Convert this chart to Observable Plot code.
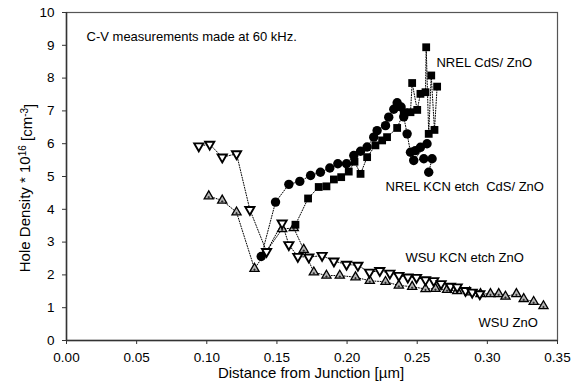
<!DOCTYPE html>
<html>
<head>
<meta charset="utf-8">
<script src="https://cdn.jsdelivr.net/npm/d3@7"></script>
<script src="https://cdn.jsdelivr.net/npm/@observablehq/plot@0.6"></script>
<style>
  html, body { margin: 0; padding: 0; background: #fff; }
  svg { font-family: Arial, "Liberation Sans", sans-serif; }
</style>
</head>
<body>
<div id="chart"></div>
<script>
// WSU KCN etch ZnO (open down-triangles)
const wsuKcnX = [0.0943,0.1021,0.111,0.1212,0.1307,0.1426,0.1537,0.1585,0.1649,0.1727,0.1822,0.1906,0.1996,0.2077,0.216,0.2233,0.2305,0.2369,0.2433,0.2495,0.2559,0.2618,0.267,0.2737,0.2785,0.2844,0.2892,0.2946];
const wsuKcnY = [5.93,5.98,5.59,5.69,3.99,2.71,3.58,2.92,2.56,2.54,2.59,2.42,2.32,2.29,2.08,2.13,2.05,1.98,1.93,1.92,1.85,1.82,1.73,1.65,1.63,1.52,1.47,1.42];
// WSU ZnO (hatched up-triangles)
const wsuX = [0.1014,0.111,0.1212,0.134,0.1537,0.162,0.1691,0.1763,0.1853,0.1948,0.206,0.2162,0.2274,0.2369,0.2464,0.2559,0.263,0.2713,0.2785,0.2874,0.2951,0.3022,0.3081,0.3129,0.3207,0.3259,0.333,0.340];
const wsuY = [4.40,4.27,3.91,2.19,3.40,3.43,2.77,2.08,1.98,1.98,1.93,1.82,1.79,1.68,1.64,1.57,1.58,1.55,1.51,1.47,1.42,1.42,1.42,1.34,1.42,1.27,1.18,1.05];
// NREL KCN etch CdS/ ZnO (filled circles)
const nrelKcnX = [0.1388,0.149,0.1585,0.1663,0.174,0.181,0.1877,0.1934,0.1996,0.2048,0.2096,0.2143,0.219,0.2214,0.2274,0.2297,0.2333,0.2357,0.2385,0.2404,0.2428,0.2452,0.2487,0.2523,0.257,0.2475,0.2547,0.2606,0.2582];
const nrelKcnY = [2.56,4.22,4.76,4.85,5.03,5.13,5.26,5.39,5.39,5.64,5.77,5.90,6.20,6.40,6.55,6.81,7.05,7.25,7.12,6.82,6.30,5.74,5.79,5.89,6.00,5.49,5.54,5.54,5.13];
// NREL CdS/ ZnO (filled squares)
const nrelX = [0.1632,0.1722,0.1798,0.1853,0.1906,0.1958,0.2012,0.2053,0.2096,0.2143,0.2202,0.225,0.2285,0.2357,0.2404,0.2452,0.2464,0.25,0.2523,0.2559,0.2564,0.2582,0.26,0.2623,0.2642];
const nrelY = [3.53,4.33,4.68,4.70,4.91,4.98,5.15,5.45,5.08,5.59,5.95,6.10,6.20,6.48,6.96,6.96,7.85,7.03,7.52,7.57,8.94,6.30,8.08,6.42,7.74];

const xTicks = [0,0.05,0.10,0.15,0.20,0.25,0.30,0.35];
const yTicks = [0,1,2,3,4,5,6,7,8,9,10];

const labels = [
  {x: 0.0143, y: 9.27, text: "C-V measurements made at 60 kHz."},
  {x: 0.2637, y: 8.48, text: "NREL CdS/ ZnO"},
  {x: 0.2274, y: 4.67, text: "NREL KCN etch  CdS/ ZnO"},
  {x: 0.2416, y: 2.51, text: "WSU KCN etch ZnO"},
  {x: 0.2937, y: 0.53, text: "WSU ZnO"}
];

const toRows = (xs, ys) => xs.map((x, i) => ({x, y: ys[i]}));
const wsuKcn = toRows(wsuKcnX, wsuKcnY);
const wsu = toRows(wsuX, wsuY);
const nrelKcn = toRows(nrelKcnX, nrelKcnY);
const nrel = toRows(nrelX, nrelY);

const triDown = {
  draw(context, size) {
    const y = -Math.sqrt(size / (Math.sqrt(3) * 3));
    context.moveTo(0, -2 * y);
    context.lineTo(-Math.sqrt(3) * y, y);
    context.lineTo(Math.sqrt(3) * y, y);
    context.closePath();
  }
};
const plus = {
  draw(context, size) {
    const s = Math.sqrt(size) / 2;
    context.moveTo(-s, 0); context.lineTo(s, 0);
    context.moveTo(0, -s); context.lineTo(0, s);
  }
};

const dotted = {x: "x", y: "y", stroke: "black", strokeWidth: 1, strokeDasharray: "1,1.6", curve: "linear"};

const chart = Plot.plot({
  width: 579,
  height: 383,
  marginLeft: 66,
  marginRight: 22,
  marginTop: 12,
  marginBottom: 43,
  style: {fontFamily: "Arial, 'Liberation Sans', sans-serif", fontSize: "13px", background: "white"},
  x: {domain: [0, 0.35], ticks: xTicks, tickFormat: d3.format(".2f"), label: null},
  y: {domain: [0, 10], ticks: yTicks, label: null},
  marks: [
    Plot.frame({stroke: "#555", strokeWidth: 1.2}),
    Plot.axisX({ticks: xTicks, tickFormat: d3.format(".2f"), tickSize: 4, tickPadding: 8, fontSize: 13.5, label: null, stroke: "#333"}),
    Plot.axisY({ticks: yTicks, tickSize: 4, tickPadding: 8, fontSize: 13.5, label: null, stroke: "#333"}),
    Plot.ruleX([0], {stroke: "#333", strokeWidth: 1.5}),
    Plot.ruleY([0], {stroke: "#333", strokeWidth: 1.5}),
    Plot.line(wsuKcn, dotted),
    Plot.line(wsu, dotted),
    Plot.line(nrelKcn, dotted),
    Plot.line(nrel, dotted),
    Plot.dot(wsu, {x: "x", y: "y", symbol: "triangle", r: 3.4, fill: "#b4b4b4", stroke: "black", strokeWidth: 1.3}),
    Plot.dot(wsu, {x: "x", y: "y", symbol: plus, r: 1.3, fill: "none", stroke: "#222", strokeWidth: 0.9, dy: 1}),
    Plot.dot(wsuKcn, {x: "x", y: "y", symbol: triDown, r: 3.4, fill: "white", stroke: "black", strokeWidth: 1.9}),
    Plot.dot(nrel, {x: "x", y: "y", symbol: "square", r: 4.4, fill: "black", stroke: "none"}),
    Plot.dot(nrelKcn, {x: "x", y: "y", symbol: "circle", r: 4.7, fill: "black", stroke: "none"}),
    Plot.text(labels, {x: "x", y: "y", text: "text", textAnchor: "start", fontSize: 13, fill: "black"})
  ]
});

const svg = d3.select(chart);
svg.append("text")
  .attr("x", 311).attr("y", 378)
  .attr("text-anchor", "middle")
  .attr("font-size", 15)
  .attr("fill", "black")
  .text("Distance from Junction [µm]");

const yl = svg.append("text")
  .attr("transform", "translate(30,188) rotate(-90)")
  .attr("text-anchor", "middle")
  .attr("font-size", 15)
  .attr("fill", "black");
yl.append("tspan").text("Hole Density * 10");
yl.append("tspan").attr("dy", "-0.45em").attr("font-size", 10).text("16");
yl.append("tspan").attr("dy", "0.45em").text(" [cm");
yl.append("tspan").attr("dy", "-0.45em").attr("font-size", 10).text("-3");
yl.append("tspan").attr("dy", "0.45em").text("]");

document.getElementById("chart").appendChild(chart);
</script>
</body>
</html>
